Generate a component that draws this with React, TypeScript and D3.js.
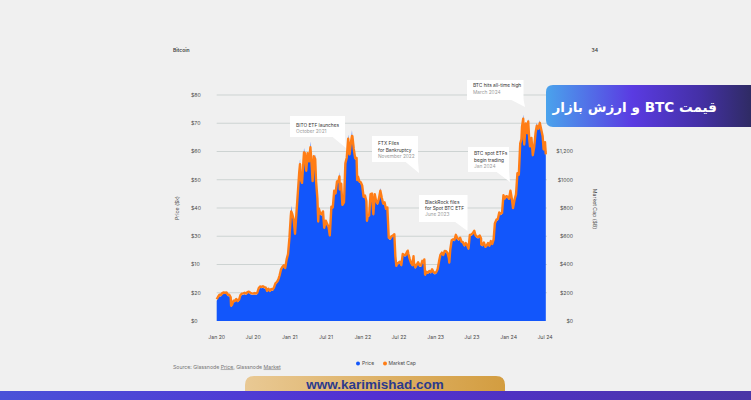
import React from "react";
import * as d3 from "d3";

// ---------- DATA ----------
const dates = [
  // 2020
  "2020-01-01","2020-01-08","2020-01-15","2020-01-22","2020-01-29","2020-02-05","2020-02-12","2020-02-19","2020-02-26",
  "2020-03-04","2020-03-11","2020-03-13","2020-03-18","2020-03-25","2020-04-01","2020-04-08","2020-04-15","2020-04-22","2020-04-29",
  "2020-05-06","2020-05-13","2020-05-20","2020-05-27","2020-06-03","2020-06-10","2020-06-17","2020-06-24",
  "2020-07-01","2020-07-08","2020-07-15","2020-07-22","2020-07-29","2020-08-05","2020-08-12","2020-08-19","2020-08-26",
  "2020-09-02","2020-09-09","2020-09-16","2020-09-23","2020-09-30","2020-10-07","2020-10-14","2020-10-21","2020-10-28",
  "2020-11-04","2020-11-11","2020-11-18","2020-11-25","2020-12-02","2020-12-09","2020-12-16","2020-12-23","2020-12-30",
  // 2021
  "2021-01-06","2021-01-08","2021-01-13","2021-01-20","2021-01-27","2021-02-03","2021-02-10","2021-02-17","2021-02-21","2021-02-24",
  "2021-03-03","2021-03-10","2021-03-13","2021-03-17","2021-03-24","2021-03-31","2021-04-07","2021-04-14","2021-04-21","2021-04-25",
  "2021-05-01","2021-05-08","2021-05-12","2021-05-19","2021-05-23","2021-05-26","2021-06-02","2021-06-09","2021-06-16","2021-06-22","2021-06-30",
  "2021-07-07","2021-07-14","2021-07-20","2021-07-28","2021-08-04","2021-08-11","2021-08-18","2021-08-25",
  "2021-09-01","2021-09-06","2021-09-08","2021-09-15","2021-09-21","2021-09-29","2021-10-06","2021-10-13","2021-10-20","2021-10-27",
  "2021-11-03","2021-11-08","2021-11-10","2021-11-17","2021-11-24","2021-12-01","2021-12-04","2021-12-08","2021-12-15","2021-12-22","2021-12-29",
  // 2022
  "2022-01-05","2022-01-12","2022-01-19","2022-01-22","2022-01-26","2022-02-02","2022-02-09","2022-02-16","2022-02-23",
  "2022-03-02","2022-03-09","2022-03-16","2022-03-23","2022-03-30","2022-04-06","2022-04-13","2022-04-20","2022-04-27",
  "2022-05-04","2022-05-11","2022-05-18","2022-05-25","2022-06-01","2022-06-08","2022-06-13","2022-06-18","2022-06-22","2022-06-29",
  "2022-07-06","2022-07-13","2022-07-20","2022-07-27","2022-08-03","2022-08-10","2022-08-14","2022-08-17","2022-08-24","2022-08-31",
  "2022-09-07","2022-09-12","2022-09-14","2022-09-21","2022-09-28","2022-10-05","2022-10-12","2022-10-19","2022-10-26",
  "2022-11-02","2022-11-05","2022-11-09","2022-11-16","2022-11-23","2022-11-30","2022-12-07","2022-12-14","2022-12-21","2022-12-28",
  // 2023
  "2023-01-04","2023-01-11","2023-01-18","2023-01-25","2023-02-01","2023-02-08","2023-02-15","2023-02-22",
  "2023-03-01","2023-03-08","2023-03-10","2023-03-15","2023-03-22","2023-03-29","2023-04-05","2023-04-12","2023-04-19","2023-04-26",
  "2023-05-03","2023-05-10","2023-05-17","2023-05-24","2023-05-31","2023-06-07","2023-06-14","2023-06-21","2023-06-28",
  "2023-07-05","2023-07-13","2023-07-19","2023-07-26","2023-08-02","2023-08-09","2023-08-16","2023-08-17","2023-08-23","2023-08-30",
  "2023-09-06","2023-09-13","2023-09-20","2023-09-27","2023-10-04","2023-10-11","2023-10-18","2023-10-24",
  "2023-11-01","2023-11-08","2023-11-15","2023-11-22","2023-11-29","2023-12-06","2023-12-13","2023-12-20","2023-12-27",
  // 2024
  "2024-01-03","2024-01-10","2024-01-17","2024-01-23","2024-01-31","2024-02-07","2024-02-14","2024-02-21","2024-02-28",
  "2024-03-05","2024-03-08","2024-03-14","2024-03-19","2024-03-27","2024-04-03","2024-04-08","2024-04-13","2024-04-17","2024-04-24",
  "2024-05-01","2024-05-08","2024-05-15","2024-05-21","2024-05-29","2024-06-05","2024-06-12","2024-06-19","2024-06-24",
  "2024-07-01","2024-07-05",
];

const priceK = [
  // 2020
  7.2,8.1,8.8,8.7,9.4,9.6,10.3,9.6,8.8,
  8.8,7.9,4.9,5.3,6.7,6.6,7.3,6.6,7.1,8.7,
  9.2,9.3,9.5,9.2,9.7,9.9,9.5,9.3,
  9.2,9.4,9.2,9.5,11.1,11.7,11.6,11.8,11.5,
  11.4,10.2,10.9,10.2,10.8,10.6,11.4,12.8,13.3,
  14.1,15.7,17.8,18.7,19.2,18.3,21.3,23.2,28.9,
  // 2021
  36.8,40.8,37.4,35.5,30.4,37.6,44.8,52.1,57.5,49.7,
  48.4,56.0,61.2,58.9,52.7,58.9,56.0,63.5,53.8,49.0,
  57.8,58.8,49.2,42.9,34.7,39.3,37.6,37.3,38.3,32.5,35.0,
  33.8,32.8,29.8,40.0,39.7,45.6,44.7,48.9,
  48.8,52.7,46.1,48.1,40.6,41.5,55.3,57.4,66.0,58.5,
  62.9,67.5,64.9,60.4,57.1,57.2,49.4,50.6,48.9,48.6,47.5,
  // 2022
  43.5,43.9,42.0,35.0,36.8,36.9,44.4,44.6,37.3,
  44.4,41.9,41.1,42.9,47.1,43.2,41.1,41.5,39.2,
  39.7,29.0,28.7,29.5,29.8,30.2,22.5,19.0,19.9,20.1,
  20.5,19.3,23.2,22.9,22.8,23.9,24.4,23.3,21.5,20.0,
  19.3,22.4,20.2,18.5,19.4,20.3,19.2,19.1,20.8,
  20.2,21.3,15.9,16.9,16.6,17.2,16.8,17.8,16.8,16.5,
  // 2023
  16.8,17.9,20.7,23.0,23.7,22.9,24.3,24.2,
  23.6,21.7,20.2,24.8,28.1,28.4,28.2,30.0,28.8,28.4,
  29.0,27.6,27.4,26.3,27.1,26.4,25.1,30.0,30.1,
  30.5,31.4,29.9,29.4,29.2,29.8,28.7,26.6,26.4,27.3,
  25.8,26.2,27.1,26.2,27.8,26.8,28.4,34.0,
  35.4,35.6,37.9,37.4,37.8,44.0,42.9,43.7,43.5,
  // 2024
  42.8,46.6,42.8,39.5,42.6,44.3,51.8,51.3,62.4,
  63.8,68.3,73.1,62.0,69.4,66.0,71.6,64.0,61.3,64.3,
  58.2,61.2,66.2,70.1,67.6,71.1,67.3,65.0,60.3,
  62.8,58.5,
];

const marketCapB = [
  // 2020
  154,172,186,184,198,202,200,202,186,
  186,168,108,116,144,142,156,142,152,184,
  194,196,200,194,204,208,200,196,
  194,198,194,200,232,244,242,246,240,
  238,214,228,214,226,222,238,266,276,
  292,324,366,384,394,376,436,474,588,
  // 2021
  746,776,758,720,618,762,906,1052,1110,1004,
  978,1130,1194,1188,1064,1188,1130,1230,1086,990,
  1166,1146,994,868,704,796,762,756,776,660,710,
  686,666,606,810,804,922,904,988,
  986,1024,932,972,822,840,1116,1158,1290,1180,
  1268,1310,1308,1218,1152,1154,998,1022,988,982,960,
  // 2022
  880,888,850,710,746,748,898,902,756,
  898,848,832,868,922,874,832,840,794,
  804,590,584,600,606,614,460,390,408,412,
  420,396,474,468,466,488,498,476,440,410,
  396,458,414,380,398,416,394,392,426,
  414,436,328,348,342,354,346,366,346,340,
  // 2023
  346,368,424,470,484,468,496,494,
  482,444,414,506,572,578,574,610,586,578,
  590,562,558,536,552,538,512,610,612,
  620,638,608,598,594,606,584,542,538,556,
  526,534,552,534,566,546,578,690,
  718,722,768,758,766,890,868,884,880,
  // 2024
  866,922,866,800,862,896,1046,1036,1258,
  1286,1376,1432,1250,1398,1330,1412,1290,1236,1296,
  1174,1234,1334,1382,1362,1402,1356,1310,1216,
  1266,1180,
];

const xTickDates = ["2020-01-01","2020-07-01","2021-01-01","2021-07-01","2022-01-01","2022-07-01","2023-01-01","2023-07-01","2024-01-01","2024-07-01"];
const xTickLabels = ["Jan 20","Jul 20","Jan 21","Jul 21","Jan 22","Jul 22","Jan 23","Jul 23","Jan 24","Jul 24"];
const priceTicks = [0,10,20,30,40,50,60,70,80];
const priceTickLabels = ["$0","$20","$10","$30","$40","$50","$60","$70","$80"];
const capTicks = [0,200,400,600,800,1000,1200];
const capTickLabels = ["$0","$200","$400","$600","$800","$1000","$1,200"];

const noteTitles = [
  ["BITO ETF launches"],
  ["FTX Files", "for Bankruptcy"],
  ["BTC spot ETFs", "begin trading"],
  ["BlackRock files", "for Spot BTC ETF"],
  ["BTC hits all-time high"],
];
const noteDates = ["October 2021","November 2022","Jan 2024","June 2023","March 2024"];

// ---------- LAYOUT ----------
const W = 751, H = 400;
const noteBoxes = [
  { x: 290, y: 116, w: 55, h: 21, tx: 346, ty: 148, base: [126.7, 132.7] },
  { x: 372, y: 136, w: 46, h: 26, tx: 419, ty: 173, base: [145, 151.7, 157.7] },
  { x: 468, y: 147, w: 41, h: 25, tx: 510, ty: 182, base: [155, 162.3, 168] },
  { x: 419, y: 195, w: 48.5, h: 27, tx: 467.5, ty: 231, base: [204, 210, 216] },
  { x: 467, y: 80, w: 56.5, h: 20, tx: 525, ty: 107, base: [86.7, 94.4] },
];

const FONT = "Inter, 'Open Sans', sans-serif";

export default function App() {
  const parse = d3.timeParse("%Y-%m-%d");
  const d = dates.map((s) => parse(s) as Date);
  const x = d3.scaleTime().domain([parse("2020-01-01") as Date, parse("2024-07-01") as Date]).range([216.7, 545]);
  const yP = d3.scaleLinear().domain([0, 80]).range([321, 95]);
  const yM = d3.scaleLinear().domain([0, 1600]).range([321, 95]);
  const idx = d3.range(d.length);

  const area = d3.area<number>().x((i) => x(d[i])).y0(yP(0)).y1((i) => yP(priceK[i]))(idx) || "";
  const capLine = d3.line<number>().x((i) => x(d[i])).y((i) => yM(marketCapB[i]))(idx) || "";

  const gridX1 = 216.7, gridX2 = 547;

  return (
    <svg width={W} height={H} style={{ position: "fixed", left: 0, top: 0, display: "block" }} fontFamily={FONT}>
      <defs>
        <linearGradient id="fa" x1="0" x2="1" y1="0" y2="0">
          <stop offset="0" stopColor="#4aa3ec" />
          <stop offset="0.42" stopColor="#5a3be2" />
          <stop offset="0.75" stopColor="#4430a6" />
          <stop offset="1" stopColor="#2f2b64" />
        </linearGradient>
        <linearGradient id="gold" x1="0" x2="1" y1="0" y2="0">
          <stop offset="0" stopColor="#e9c994" />
          <stop offset="0.6" stopColor="#dcae60" />
          <stop offset="1" stopColor="#d39d40" />
        </linearGradient>
        <linearGradient id="band" x1="0" x2="1" y1="0" y2="0">
          <stop offset="0" stopColor="#4a52d8" />
          <stop offset="0.5" stopColor="#5230d2" />
          <stop offset="1" stopColor="#4a36a6" />
        </linearGradient>
      </defs>
      <rect x={0} y={0} width={W} height={H} fill="#f0f0f0" />

      {/* header */}
      <text x={173} y={51.5} fontSize={5} fontWeight={600} fill="#444">Bitcoin</text>
      <text x={598} y={51.5} fontSize={5} fontWeight={600} fill="#444" textAnchor="end">34</text>

      {/* gridlines */}
      {priceTicks.filter((t) => t > 0).map((t) => (
        <line key={t} x1={gridX1} x2={gridX2} y1={yP(t)} y2={yP(t)} stroke="#cdd3d2" strokeWidth={1} />
      ))}

      {/* series */}
      <path d={area} fill="#1256fb" />
      <path d={capLine} fill="none" stroke="#ff7d16" strokeWidth={2.4} strokeLinejoin="round" />

      {/* left axis */}
      {priceTicks.map((t, i) => (
        <text key={t} x={191} y={yP(t) + 1.8} fontSize={5.2} fill="#4a4a4a">{priceTickLabels[i]}</text>
      ))}
      <text transform={`translate(178.5,208) rotate(-90)`} fontSize={5.2} fill="#4a4a4a" textAnchor="middle">Price ($k)</text>

      {/* right axis */}
      {capTicks.map((t, i) => (
        <text key={t} x={573} y={yM(t) + 1.8} fontSize={5.2} fill="#4a4a4a" textAnchor="end">{capTickLabels[i]}</text>
      ))}
      <text transform={`translate(592.5,209) rotate(90)`} fontSize={5.2} fill="#4a4a4a" textAnchor="middle">Market Cap ($B)</text>

      {/* x axis */}
      {xTickDates.map((s, i) => (
        <text key={s} x={x(parse(s) as Date)} y={339} fontSize={5.2} fill="#4a4a4a" textAnchor="middle">{xTickLabels[i]}</text>
      ))}

      {/* annotations */}
      {noteBoxes.map((b, i) => (
        <g key={i}>
          <rect x={b.x} y={b.y} width={b.w} height={b.h} fill="#ffffff" />
          <polygon points={`${b.x + b.w - 13},${b.y + b.h - 0.5} ${b.x + b.w},${b.y + b.h - 0.5} ${b.tx},${b.ty}`} fill="#ffffff" />
          {noteTitles[i].map((t, j) => (
            <text key={j} x={b.x + 6} y={b.base[j]} fontSize={4.8} fill="#333">{t}</text>
          ))}
          <text x={b.x + 6} y={b.base[noteTitles[i].length]} fontSize={4.8} fill="#9a9a9a">{noteDates[i]}</text>
        </g>
      ))}

      {/* legend */}
      <circle cx={358} cy={363.5} r={2} fill="#1256fb" />
      <text x={362} y={365.3} fontSize={5} fill="#4a4a4a">Price</text>
      <circle cx={385} cy={363.5} r={2} fill="#ff7d16" />
      <text x={388.5} y={365.3} fontSize={5} fill="#4a4a4a">Market Cap</text>

      {/* source */}
      <text x={173} y={368.5} fontSize={5.2} fill="#777">
        Source: Glassnode <tspan style={{ textDecoration: "underline" }}>Price</tspan>, Glassnode <tspan style={{ textDecoration: "underline" }}>Market</tspan>
      </text>

      {/* Persian title banner */}
      <path d={`M${W},85 H553 Q546,85 546,92 V120 Q546,127 553,127 H${W} Z`} fill="url(#fa)" />
      <text x={717} y={112} fontSize={13.6} fontWeight="bold" fill="#ffffff" textAnchor="start" direction="rtl" style={{ unicodeBidi: "embed" }} fontFamily="'DejaVu Sans', sans-serif">قیمت BTC و ارزش بازار</text>

      {/* bottom footer */}
      <path d={`M245,400 V385 Q245,376 254,376 H496 Q505,376 505,385 V400 Z`} fill="url(#gold)" />
      <text x={375} y={389} fontSize={13.5} fontWeight="bold" fill="#2b3a8c" textAnchor="middle" fontFamily="'Liberation Sans', Arial, sans-serif">www.karimishad.com</text>
      <rect x={0} y={391} width={W} height={9} fill="url(#band)" />
    </svg>
  );
}
